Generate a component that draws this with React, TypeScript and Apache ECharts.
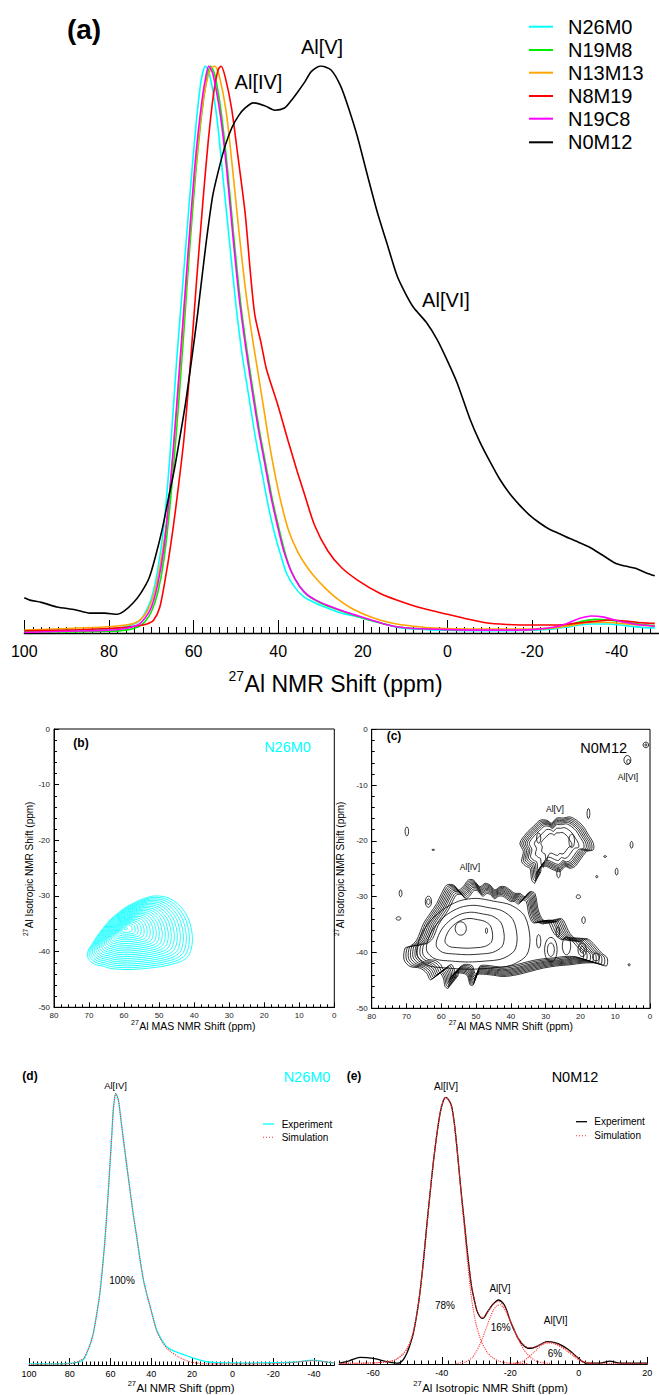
import React, { useEffect, useRef } from 'react';
import * as echarts from 'echarts';

const FONT = '"Liberation Sans", Arial, Helvetica, sans-serif';

// ---------- Panel (a): 1D 27Al MAS NMR spectra [ppm, normalised intensity] ----------
const A_SERIES_NAMES = ['N26M0', 'N19M8', 'N13M13', 'N8M19', 'N19C8', 'N0M12'];
const A_COLORS = ['#00ffff', '#00ee00', '#ffa500', '#ff0000', '#ff00ff', '#000000'];
const A_TICK_LABELS = [100, 80, 60, 40, 20, 0, -20, -40];

const N26M0 = [[100,0.004],[90,0.005],[80,0.007],[76,0.011],[73,0.02],[71.5,0.035],[70,0.06],[68.5,0.11],[67,0.19],[65.5,0.32],[64,0.48],[62.5,0.62],[61,0.76],[59.5,0.89],[58.3,0.97],[57.2,1.0],[56.2,0.985],[54.5,0.91],[53,0.8],[51.5,0.69],[50,0.58],[48.5,0.49],[47,0.42],[45.5,0.35],[44,0.29],[42.5,0.23],[41,0.18],[39.5,0.14],[38,0.105],[36,0.08],[34,0.064],[31,0.052],[28,0.043],[25,0.035],[22,0.03],[19,0.024],[16,0.018],[13,0.012],[10,0.008],[5,0.006],[0,0.005],[-10,0.004],[-20,0.005],[-25,0.007],[-28,0.01],[-31,0.014],[-34,0.016],[-38,0.016],[-42,0.013],[-46,0.01],[-49,0.009]];
const N19M8 = [[100,0.002],[90,0.002],[80,0.003],[76,0.005],[73,0.011],[71.5,0.02],[70,0.037],[68.5,0.07],[67,0.13],[65.5,0.23],[64,0.36],[62.5,0.51],[61,0.67],[59.5,0.81],[58,0.92],[56.8,0.98],[56,1.0],[55,0.985],[53.5,0.92],[52,0.82],[50.5,0.7],[49,0.59],[47.5,0.505],[46,0.43],[44.5,0.36],[43,0.3],[41.5,0.24],[40,0.19],[38.5,0.145],[37,0.11],[35,0.083],[33,0.066],[30,0.053],[27,0.044],[24,0.036],[21,0.029],[18,0.022],[15,0.016],[12,0.011],[8,0.008],[0,0.006],[-10,0.005],[-20,0.006],[-25,0.009],[-29,0.015],[-32,0.021],[-35,0.024],[-38,0.023],[-42,0.019],[-46,0.015],[-49,0.013]];
const N13M13 = [[100,0.005],[90,0.008],[80,0.011],[76,0.014],[74,0.017],[72.5,0.024],[71,0.038],[69.5,0.065],[68,0.115],[66.5,0.19],[65,0.3],[63.5,0.44],[62,0.59],[60.5,0.74],[59,0.86],[57.5,0.95],[56,0.995],[55,1.0],[54,0.985],[52.3,0.92],[50.8,0.82],[49.3,0.71],[47.8,0.61],[46.3,0.53],[45,0.47],[43.5,0.4],[42,0.33],[40.5,0.27],[39,0.22],[37.5,0.18],[35.5,0.145],[33.5,0.12],[31.5,0.1],[29,0.08],[26,0.06],[23,0.045],[20,0.034],[16,0.023],[12,0.016],[8,0.012],[4,0.009],[0,0.008],[-10,0.007],[-20,0.007],[-25,0.009],[-29,0.013],[-33,0.018],[-37,0.019],[-41,0.017],[-45,0.014],[-49,0.012]];
const N8M19 = [[100,0.004],[90,0.005],[80,0.008],[76,0.01],[73,0.013],[71,0.016],[69.5,0.022],[68,0.045],[66.6,0.099],[65.5,0.15],[64.3,0.215],[62.3,0.34],[60.7,0.48],[59.3,0.62],[57.8,0.76],[56.5,0.87],[55.2,0.955],[54.2,0.993],[53.5,1.0],[52.5,0.98],[51,0.925],[49.5,0.84],[47.8,0.74],[46.5,0.63],[45.5,0.56],[44,0.51],[42.8,0.466],[40,0.4],[37.7,0.34],[35.5,0.285],[33.8,0.245],[31.4,0.19],[28.3,0.145],[25,0.115],[21,0.092],[16,0.07],[12,0.058],[8,0.048],[4,0.04],[0,0.033],[-4,0.026],[-9,0.018],[-14,0.015],[-20,0.014],[-26,0.014],[-30,0.017],[-34,0.02],[-38.7,0.023],[-42,0.021],[-46,0.018],[-49,0.017]];
const N19C8 = [[100,0.001],[90,0.003],[80,0.005],[76,0.008],[73,0.015],[71.5,0.026],[70,0.045],[68.5,0.085],[67,0.15],[65.5,0.26],[64,0.4],[62.5,0.55],[61,0.7],[59.5,0.84],[58,0.94],[57,0.985],[56.4,1.0],[55.4,0.985],[53.7,0.915],[52.2,0.82],[50.7,0.7],[49.2,0.59],[47.7,0.505],[46.2,0.43],[44.7,0.36],[43.2,0.3],[41.7,0.24],[40.2,0.19],[38.7,0.145],[37,0.11],[35,0.083],[33,0.067],[30,0.054],[27,0.045],[24,0.037],[21,0.03],[18,0.023],[15,0.016],[12,0.011],[8,0.008],[0,0.006],[-10,0.005],[-20,0.006],[-25,0.01],[-28,0.016],[-31,0.025],[-34,0.03],[-37,0.028],[-40,0.022],[-44,0.016],[-49,0.012]];
const N0M12 = [[100,0.062],[98.7,0.058],[96,0.054],[92.3,0.046],[88,0.041],[84.5,0.035],[81,0.035],[78,0.033],[76.5,0.038],[74.3,0.053],[72.5,0.07],[70.5,0.097],[69,0.135],[67.5,0.18],[66,0.235],[64.5,0.29],[63,0.355],[61.9,0.405],[60.4,0.485],[59,0.565],[57.2,0.678],[55.5,0.77],[54.1,0.816],[52.5,0.86],[50.9,0.892],[49.3,0.913],[47.8,0.926],[45.9,0.935],[43.2,0.93],[40.8,0.922],[38.5,0.926],[36.8,0.94],[35.3,0.955],[33.7,0.972],[32.2,0.99],[30,1.0],[27.5,0.993],[25.2,0.964],[23.2,0.922],[21.3,0.876],[19,0.81],[16.6,0.743],[14,0.68],[11.9,0.63],[10,0.6],[8,0.574],[5,0.548],[2.4,0.517],[0,0.48],[-2.3,0.441],[-5.3,0.378],[-7.6,0.338],[-10,0.303],[-12.3,0.272],[-14.7,0.246],[-17,0.226],[-19.4,0.208],[-21.8,0.194],[-24.1,0.183],[-26.5,0.175],[-28.8,0.167],[-31,0.16],[-33.4,0.152],[-36.5,0.138],[-39.7,0.123],[-42,0.118],[-44.4,0.114],[-47,0.106],[-49,0.101]];
const A_DATA = [N26M0, N19M8, N13M13, N8M19, N19C8, N0M12];

// ---------- Panel (b): 2D MQMAS contour of N26M0 [MAS ppm, isotropic ppm] ----------
const B_OUTER = [[70.45,-40.9],[69.5,-41.8],[67.8,-42.4],[66,-42.6],[64,-43.0],[60.5,-43.2],[57.3,-43.2],[53.5,-43.0],[49.6,-42.7],[46.5,-42.3],[43.9,-41.8],[41.8,-40.9],[40.9,-39.7],[40.5,-38.2],[40.6,-36.7],[41.5,-34.3],[43,-32.6],[44.9,-31.3],[46.8,-30.5],[48.7,-30.1],[51.6,-30.0],[53.5,-30.3],[55.4,-30.7],[57.3,-31.3],[59.2,-31.9],[61.6,-33.0],[64,-34.3],[66,-35.8],[67.8,-37.3],[69.2,-38.7],[70.2,-39.7]];
const B_CENTER = [59.6, -35.8];
const B_LEVELS = [1, 0.955, 0.91, 0.865, 0.82, 0.775, 0.73, 0.685, 0.64, 0.595, 0.55, 0.505, 0.46, 0.415, 0.37, 0.325, 0.28, 0.235, 0.19, 0.145, 0.1, 0.03];

// ---------- Panel (c): 2D MQMAS contour of N0M12 ----------
const C_IV_OUTER = [[70.7,-41.3],[69,-42.5],[66.1,-42.8],[64.2,-43.7],[63.2,-44.9],[62.3,-44.6],[60.4,-43.7],[59.4,-44.6],[58.9,-46.1],[58,-46.4],[57.5,-44.6],[55.6,-43.7],[52.7,-44],[51.7,-45.8],[50.8,-45.8],[49.8,-44],[46,-44],[42.2,-44.3],[38.3,-44],[34.5,-43.4],[30.7,-42.8],[26.8,-42.4],[23,-42.2],[19.2,-41.9],[15.3,-41.9],[12.5,-42.4],[12.3,-41],[13.9,-40.1],[16.3,-38.4],[18.2,-37.5],[20.1,-38.1],[23,-36.6],[24.9,-34.2],[25.9,-33.9],[26.8,-34.5],[28.7,-34.2],[30.7,-34.2],[32.1,-32.4],[33.1,-29.4],[34.5,-29.1],[35.9,-30],[37.4,-29.4],[38.8,-29.4],[40.2,-28.8],[41.7,-28.2],[43.1,-28.2],[44.6,-28.8],[46,-27.9],[47.4,-27.6],[48.9,-28.2],[50.8,-27],[52.2,-27],[53.7,-28.2],[55.1,-28.8],[56.5,-27.9],[58.4,-27.9],[59.9,-29.4],[61.3,-31.2],[63.2,-33],[65.1,-34.8],[67.1,-37.8],[69,-38.9],[70.4,-39.2]];
const C_IV_CENTER = [45, -36.3];
const C_IV_LEVELS = [1, 0.975, 0.95, 0.925, 0.9, 0.875, 0.85, 0.82, 0.79];
const C_IV_CORE = [[67,-40.5],[64,-42.3],[58,-42.8],[52,-43],[46,-42.8],[40,-42.3],[35.5,-40.5],[34.5,-37.5],[36,-33.5],[40,-31.5],[45,-30.8],[50,-30.3],[55,-30.8],[60,-32.5],[64,-35],[66.5,-38]];
const C_IV_CORE_CENTER = [53, -36.5];
const C_IV_CORE_LEVELS = [1, 0.8, 0.6, 0.42];
const C_V_OUTER = [[36.9,-23.7],[36.4,-21.9],[37.4,-20.4],[35.5,-18.6],[33.5,-17.4],[31.6,-16.3],[29.7,-16.3],[28.3,-16.8],[26.8,-15.9],[24.9,-15.9],[23,-15.7],[21.1,-16.3],[19.2,-17.4],[17.7,-18.9],[16.3,-20.4],[16.3,-21.6],[18.2,-21.9],[20.1,-23.4],[21.6,-24.6],[23,-24.9],[24.4,-24.6],[25.9,-25.5],[27.8,-25.2],[29.7,-24.6],[31.1,-24.6],[32.6,-25.8],[33.1,-27.6],[34,-27],[34.5,-24.9],[35.5,-24.6]];
const C_V_CENTER = [27, -20.5];
const C_V_LEVELS = [1, 0.95, 0.9, 0.85, 0.8, 0.74, 0.6, 0.42];
// small isolated contours: [MAS ppm, iso ppm, half-width ppm, half-height ppm]
const C_ISLANDS = [[69.9,-18.3,0.5,0.8],[62.3,-21.6,0.4,0.1],[71.7,-29.4,0.4,0.6],[72.3,-33.9,0.7,0.3],[63.7,-30.9,0.9,1.0],[63.7,-30.9,0.5,0.5],[20.6,-30,0.6,0.35],[19.1,-34.2,0.5,0.6],[26.3,-25.8,0.5,0.8],[17.7,-15.1,0.4,0.9],[5.3,-20.7,0.4,0.6],[9.6,-25.5,0.4,0.6],[12.9,-22.8,0.4,0.15],[15.3,-26.4,0.3,0.2],[6,-42.2,0.3,0.2],[6.5,-5.5,1.0,0.8],[6.2,-5.8,0.5,0.4],[1.2,-2.8,0.8,0.5],[1.2,-2.8,0.3,0.2],[54.4,-35.7,1.6,1.2],[47,-36.1,0.3,0.5],[28.5,-39.5,1.8,2.2],[28.5,-39.5,1.0,1.2],[24,-38.8,1.2,1.6],[19.5,-39.5,1.2,1.2],[19.5,-39.5,0.6,0.6],[15.5,-40.8,1.0,0.7],[32,-38,0.6,1.2],[26.5,-36.3,0.5,0.9],[32,-19.5,0.6,0.9],[22.5,-20,0.8,1.2]];

// ---------- Panel (d): N26M0 isotropic projection fit ----------
const D_TICK_LABELS = [100, 80, 60, 40, 20, 0, -20, -40];
const D_EXP = [[100,0.004],[90,0.004],[80,0.006],[77,0.009],[75,0.012],[73,0.022],[71.7,0.043],[70,0.075],[68.4,0.117],[66.8,0.185],[65.2,0.264],[64,0.35],[62.7,0.46],[61.4,0.6],[60.2,0.742],[59.3,0.85],[58.6,0.939],[57.4,1.0],[56.1,0.975],[54.8,0.9],[53.6,0.828],[52,0.735],[50.4,0.644],[48.8,0.555],[47.1,0.472],[45.5,0.39],[43.8,0.313],[42.2,0.262],[40.5,0.215],[38.9,0.17],[37.3,0.129],[35,0.095],[32.4,0.067],[29,0.052],[25.9,0.043],[22.5,0.034],[19.3,0.025],[16,0.018],[12.7,0.012],[8,0.009],[0,0.008],[-10,0.007],[-16.4,0.008],[-25,0.009],[-32.7,0.012],[-36,0.016],[-39.7,0.018],[-43,0.015],[-47,0.01],[-50,0.008]];
const D_SIM = [[100,0.002],[90,0.003],[82,0.004],[78.2,0.006],[76.5,0.011],[75,0.016],[73,0.026],[71.7,0.045],[70,0.075],[68.4,0.117],[66.8,0.185],[65.2,0.264],[64,0.35],[62.7,0.46],[61.4,0.6],[60.2,0.742],[59.3,0.85],[58.6,0.939],[57.4,1.0],[56.1,0.975],[54.8,0.9],[53.6,0.828],[52,0.735],[50.4,0.644],[48.8,0.555],[47.1,0.472],[45.5,0.39],[43.8,0.313],[42.2,0.262],[40.5,0.215],[38.9,0.168],[37.3,0.126],[35,0.09],[32.4,0.062],[30,0.047],[27,0.032],[24,0.02],[21,0.012],[19.3,0.009],[15,0.005],[10,0.004],[0,0.004],[-10,0.004],[-20,0.005],[-28,0.008],[-34,0.013],[-39,0.016],[-44,0.013],[-50,0.008]];

// ---------- Panel (e): N0M12 isotropic projection fit ----------
const E_TICK_LABELS = [-60, -40, -20, 0, 20];
const E_EXP = [[-70,0.003],[-67,0.012],[-63.9,0.025],[-60,0.021],[-56.1,0.009],[-52.7,0.003],[-51.3,0.015],[-50.2,0.04],[-49.2,0.075],[-48.3,0.115],[-47.3,0.185],[-46.4,0.265],[-45.4,0.38],[-44.5,0.502],[-43.5,0.63],[-42.5,0.752],[-41.5,0.855],[-40.5,0.94],[-39.6,0.985],[-38.8,1.0],[-38,0.99],[-37.1,0.965],[-36.3,0.9],[-35.6,0.815],[-34.9,0.72],[-34.2,0.627],[-33.4,0.53],[-32.7,0.44],[-32,0.36],[-31.3,0.29],[-30.5,0.24],[-29.8,0.202],[-29,0.18],[-28.3,0.171],[-27.6,0.175],[-26.9,0.19],[-26,0.208],[-25,0.225],[-23.5,0.24],[-22.1,0.228],[-21,0.2],[-20.1,0.165],[-18.9,0.128],[-17.7,0.096],[-16.2,0.07],[-14.8,0.059],[-13.5,0.06],[-12.3,0.065],[-10.8,0.076],[-9.4,0.084],[-8,0.083],[-6.5,0.078],[-5,0.07],[-3.6,0.059],[-2,0.043],[-0.6,0.027],[1,0.01],[2.3,0.003],[6.2,0.003],[9.1,0.011],[12,0.003],[20,0.003]];
const E_SIM_TOTAL = [[-70,0.002],[-60,0.004],[-56,0.008],[-53.5,0.016],[-51.5,0.035],[-50,0.06],[-49,0.09],[-48.3,0.12],[-47.3,0.185],[-46.4,0.265],[-45.4,0.38],[-44.5,0.502],[-43.5,0.63],[-42.5,0.752],[-41.5,0.855],[-40.5,0.94],[-39.6,0.985],[-38.8,1.0],[-38,0.99],[-37.1,0.965],[-36.3,0.9],[-35.6,0.815],[-34.9,0.72],[-34.2,0.627],[-33.4,0.53],[-32.7,0.44],[-32,0.36],[-31.3,0.29],[-30.5,0.24],[-29.8,0.205],[-29,0.183],[-28.3,0.175],[-27.6,0.178],[-26.9,0.19],[-26,0.208],[-25,0.223],[-23.5,0.235],[-22.1,0.222],[-21,0.197],[-20.1,0.165],[-18.9,0.13],[-17.7,0.098],[-16.2,0.073],[-14.8,0.062],[-13.5,0.062],[-12.3,0.067],[-10.8,0.076],[-9.4,0.082],[-8,0.081],[-6.5,0.076],[-5,0.066],[-3.6,0.055],[-2,0.04],[-0.6,0.026],[1,0.011],[2.5,0.005],[5,0.003],[20,0.002]];
const E_SIM_IV = [[-70,0.002],[-60,0.004],[-56,0.008],[-53.5,0.016],[-51.5,0.035],[-50,0.06],[-49,0.09],[-48.3,0.12],[-47.3,0.185],[-46.4,0.265],[-45.4,0.38],[-44.5,0.502],[-43.5,0.63],[-42.5,0.752],[-41.5,0.855],[-40.5,0.94],[-39.6,0.985],[-38.8,1.0],[-38,0.99],[-37.1,0.96],[-36.3,0.895],[-35.6,0.81],[-34.9,0.715],[-34.2,0.615],[-33.4,0.51],[-32.7,0.41],[-32,0.32],[-31.3,0.245],[-30.5,0.18],[-29.8,0.14],[-29,0.105],[-28.3,0.08],[-27.5,0.06],[-26.5,0.04],[-25,0.022],[-23.5,0.012],[-22,0.006],[-20,0.003],[-15,0.002]];
const E_SIM_V = [[-36,0.002],[-33,0.008],[-31,0.025],[-30,0.045],[-29,0.07],[-28,0.1],[-27,0.135],[-26,0.17],[-25,0.2],[-24,0.218],[-23,0.222],[-22,0.212],[-21,0.19],[-20,0.16],[-19,0.128],[-18,0.1],[-17,0.075],[-16,0.053],[-15,0.037],[-14,0.024],[-13,0.015],[-12,0.009],[-10,0.004],[-8,0.002]];
const E_SIM_VI = [[-19,0.002],[-17,0.007],[-16,0.013],[-15,0.022],[-14,0.033],[-13,0.045],[-12,0.058],[-11,0.069],[-10,0.076],[-9,0.079],[-8,0.078],[-7,0.075],[-6,0.069],[-5,0.062],[-4,0.054],[-3,0.044],[-2,0.034],[-1,0.024],[0,0.016],[1,0.009],[2,0.005],[4,0.002]];

// ---------------- helpers ----------------
function pairAxes(grid: number, min: number, max: number, minorStep: number, majors: number[],
  minorLen: number, majorLen: number, labelSize: number, margin: number, lw: number, inverse: boolean) {
  const lineStyle = { color: '#000', width: 1 };
  return [
    {
      type: 'value', gridIndex: grid, position: 'bottom', min, max, interval: minorStep, inverse,
      axisLine: { show: true, onZero: false, lineStyle: { color: '#000', width: lw } },
      axisTick: { show: true, inside: true, length: minorLen, lineStyle },
      axisLabel: {
        show: true, customValues: majors, fontSize: labelSize, margin, color: '#000', fontFamily: FONT,
        formatter: (v: number) => (majors.indexOf(v) >= 0 ? String(v) : ''),
      },
      splitLine: { show: false },
    },
    {
      type: 'value', gridIndex: grid, position: 'bottom', min, max, inverse,
      axisLine: { show: false },
      axisTick: { show: true, inside: true, length: majorLen, customValues: majors, lineStyle },
      axisLabel: { show: false },
      splitLine: { show: false },
    },
  ];
}

function twoDAxes(grid: number) {
  const ls = { color: '#000', width: 1 };
  const x = {
    type: 'value', gridIndex: grid, min: 0, max: 80, interval: 10, inverse: true,
    axisLine: { show: true, onZero: false, lineStyle: ls },
    axisTick: { show: true, inside: true, length: 5, lineStyle: ls },
    minorTick: { show: true, splitNumber: 5, length: 3, lineStyle: ls },
    axisLabel: { fontSize: 8, margin: 4, color: '#222', fontFamily: FONT },
    splitLine: { show: false },
  };
  const y = {
    type: 'value', gridIndex: grid, min: -50, max: 0, interval: 10,
    axisLine: { show: true, onZero: false, lineStyle: ls },
    axisTick: { show: true, inside: true, length: 5, lineStyle: ls },
    minorTick: { show: true, splitNumber: 5, length: 3, lineStyle: ls },
    axisLabel: { fontSize: 8, margin: 4, color: '#222', fontFamily: FONT },
    splitLine: { show: false },
  };
  return { x, y };
}

function ringSeries(xi: number, yi: number, boundary: number[][], center: number[], levels: number[], color: string, width: number) {
  return {
    type: 'custom', coordinateSystem: 'cartesian2d', xAxisIndex: xi, yAxisIndex: yi, silent: true, clip: true,
    data: levels.map((l) => [center[0], center[1], l]),
    encode: { x: 0, y: 1 },
    renderItem: (params: any, api: any) => {
      const f = api.value(2);
      const pts = boundary.map(([x, y]) => api.coord([center[0] + f * (x - center[0]), center[1] + f * (y - center[1])]));
      return { type: 'polygon', shape: { points: pts, smooth: 0.3 }, style: { fill: 'none', stroke: color, lineWidth: width } };
    },
  };
}

function islandSeries(xi: number, yi: number, items: number[][], color: string) {
  return {
    type: 'custom', coordinateSystem: 'cartesian2d', xAxisIndex: xi, yAxisIndex: yi, silent: true, clip: true,
    data: items, encode: { x: 0, y: 1 },
    renderItem: (params: any, api: any) => {
      const c = api.coord([api.value(0), api.value(1)]);
      const s = api.size([api.value(2), api.value(3)]);
      return { type: 'ellipse', shape: { cx: c[0], cy: c[1], rx: Math.max(0.8, Math.abs(s[0])), ry: Math.max(0.6, Math.abs(s[1])) }, style: { fill: 'none', stroke: color, lineWidth: 0.8 } };
    },
  };
}

function txt(text: string, x: number, y: number, size: number, opt: any = {}) {
  return {
    type: 'text', x, y, silent: true,
    style: {
      text, fontSize: size, fontFamily: FONT, fill: opt.fill || '#000', fontWeight: opt.bold ? 'bold' : 'normal',
      textAlign: opt.align || 'center', textVerticalAlign: 'middle',
    },
  };
}

// horizontal axis title with a superscript isotope number; x0 = left edge
function supTitle(x0: number, y: number, sup: string, main: string, supSize: number, mainSize: number) {
  const supW = sup.length * supSize * 0.556 + 0.5;
  return {
    type: 'group', x: x0, y, children: [
      txt(sup, 0, -mainSize * 0.36, supSize, { align: 'left' }),
      txt(main, supW, 0, mainSize, { align: 'left' }),
    ],
  };
}

// vertical axis title (reads bottom to top), centred at (cx, cy)
function vTitle(cx: number, cy: number, sup: string, main: string, supSize: number, mainSize: number, totalW: number) {
  const supW = sup.length * supSize * 0.556 + 0.5;
  return {
    type: 'group', x: cx, y: cy, rotation: Math.PI / 2, children: [
      txt(sup, -totalW / 2, -mainSize * 0.36, supSize, { align: 'left' }),
      txt(main, -totalW / 2 + supW, 0, mainSize, { align: 'left' }),
    ],
  };
}

function legendLine(x1: number, x2: number, y: number, color: string, width: number, dash?: number[]) {
  return { type: 'line', silent: true, shape: { x1, y1: y, x2, y2: y }, style: { stroke: color, lineWidth: width, lineDash: dash || null } };
}

export default function App() {
  const ref = useRef<HTMLDivElement>(null);
  useEffect(() => {
    if (!ref.current) return;
    const chart = echarts.init(ref.current, undefined, { renderer: 'svg' });

    const aAxes = pairAxes(0, -50, 100, 2, A_TICK_LABELS, 6, 13, 16, 10, 1.3, true);
    const b = twoDAxes(1);
    const c = twoDAxes(2);
    const dAxes = pairAxes(3, -50, 100, 2, D_TICK_LABELS, 3.5, 7, 9, 4.5, 1.1, true);
    const eAxes = pairAxes(4, -70, 20, 2, E_TICK_LABELS, 3.5, 7, 9, 4, 1.1, false);

    const hiddenY = (g: number) => ({ type: 'value', gridIndex: g, min: 0, max: 1, show: false, splitLine: { show: false } });

    const lineSeries = (name: string, data: number[][], xi: number, yi: number, color: string, width: number, dotted = false) => ({
      type: 'line', name, data, xAxisIndex: xi, yAxisIndex: yi, showSymbol: false, smooth: 0.25, silent: true,
      lineStyle: { color, width, type: dotted ? 'dotted' : 'solid' }, z: dotted ? 4 : 3,
    });

    const series: any[] = [];
    A_DATA.forEach((d, i) => series.push(lineSeries(A_SERIES_NAMES[i], d, 0, 0, A_COLORS[i], 1.6)));
    series.push(ringSeries(2, 1, B_OUTER, B_CENTER, B_LEVELS, '#00ffff', 0.85));
    series.push(ringSeries(3, 2, C_IV_OUTER, C_IV_CENTER, C_IV_LEVELS, '#000', 0.8));
    series.push(ringSeries(3, 2, C_IV_CORE, C_IV_CORE_CENTER, C_IV_CORE_LEVELS, '#000', 0.8));
    series.push(ringSeries(3, 2, C_V_OUTER, C_V_CENTER, C_V_LEVELS, '#000', 0.8));
    series.push(islandSeries(3, 2, C_ISLANDS, '#000'));
    series.push(lineSeries('Experiment', D_EXP, 4, 3, '#00ffff', 1.3));
    series.push(lineSeries('Simulation', D_SIM, 4, 3, '#ff3030', 1.1, true));
    series.push(lineSeries('Experiment', E_EXP, 6, 4, '#000', 1.3));
    series.push(lineSeries('Simulation', E_SIM_TOTAL, 6, 4, '#ff3030', 1.1, true));
    series.push(lineSeries('Al[IV]', E_SIM_IV, 6, 4, '#ff3030', 1.1, true));
    series.push(lineSeries('Al[V]', E_SIM_V, 6, 4, '#ff3030', 1.1, true));
    series.push(lineSeries('Al[VI]', E_SIM_VI, 6, 4, '#ff3030', 1.1, true));

    const legendRows = [26.7, 50, 72.7, 96, 118.7, 142.3];
    const graphics: any[] = [
      // panel (a)
      txt('(a)', 84, 29, 28, { bold: true }),
      txt('Al[IV]', 258.5, 82, 20),
      txt('Al[V]', 322, 46.5, 20),
      txt('Al[VI]', 446, 300, 20),
      ...A_SERIES_NAMES.map((n, i) => legendLine(529, 553, legendRows[i], A_COLORS[i], 2)),
      ...A_SERIES_NAMES.map((n, i) => txt(n, 568, legendRows[i], 20, { align: 'left' })),
      supTitle(228.5, 684, '27', 'Al NMR Shift (ppm)', 14, 23),
      // panel (b)
      txt('(b)', 81, 742.5, 12, { bold: true }),
      txt('N26M0', 287.5, 747, 14.5, { fill: '#00ffff' }),
      supTitle(131, 1026, '27', 'Al MAS NMR Shift (ppm)', 7, 10.5),
      vTitle(29, 868, '27', 'Al Isotropic NMR Shift (ppm)', 6.5, 10, 136),
      // panel (c)
      txt('(c)', 394, 736, 12, { bold: true }),
      txt('N0M12', 603.7, 748.3, 14.5),
      txt('Al[IV]', 470, 866.7, 8.5),
      txt('Al[V]', 555, 809.3, 8.5),
      txt('Al[VI]', 628, 776.7, 8.5),
      supTitle(448.7, 1026, '27', 'Al MAS NMR Shift (ppm)', 7, 10.5),
      vTitle(340, 868, '27', 'Al Isotropic NMR Shift (ppm)', 6.5, 10, 136),
      // panel (d)
      txt('(d)', 30, 1076, 12, { bold: true }),
      txt('N26M0', 307, 1077, 14.5, { fill: '#00ffff' }),
      txt('Al[IV]', 115.5, 1085, 9.5),
      txt('100%', 122, 1280, 10),
      legendLine(263, 274, 1124, '#00ffff', 1.3),
      legendLine(263, 274, 1137.3, '#ff3030', 1.1, [1, 2]),
      txt('Experiment', 281.7, 1124, 10, { align: 'left' }),
      txt('Simulation', 281.7, 1137.3, 10, { align: 'left' }),
      supTitle(127.7, 1388, '27', 'Al NMR Shift (ppm)', 7.5, 11.4),
      // panel (e)
      txt('(e)', 354, 1076, 12, { bold: true }),
      txt('N0M12', 575, 1077, 14.5),
      txt('Al[IV]', 446, 1086.7, 10),
      txt('78%', 445, 1305, 10),
      txt('Al[V]', 500, 1288.3, 10),
      txt('16%', 500.7, 1327.3, 10),
      txt('Al[VI]', 555.7, 1320.7, 10),
      txt('6%', 555, 1353.3, 10),
      legendLine(576, 587, 1121.7, '#000', 1.3),
      legendLine(576, 587, 1135.7, '#ff3030', 1.1, [1, 2]),
      txt('Experiment', 594.3, 1121.7, 10, { align: 'left' }),
      txt('Simulation', 594.3, 1135.7, 10, { align: 'left' }),
      supTitle(413.3, 1388, '27', 'Al Isotropic NMR Shift (ppm)', 7.5, 11.5),
    ];

    chart.setOption({
      animation: false,
      backgroundColor: '#ffffff',
      textStyle: { fontFamily: FONT },
      grid: [
        { left: 24.3, top: 66, width: 639.6, height: 567, containLabel: false },
        { left: 54, top: 729, width: 280.3, height: 278.3, show: true, borderColor: '#000', borderWidth: 1, backgroundColor: 'rgba(0,0,0,0)' },
        { left: 371.7, top: 729.3, width: 278.3, height: 279, show: true, borderColor: '#000', borderWidth: 1, backgroundColor: 'rgba(0,0,0,0)' },
        { left: 29, top: 1093.3, width: 305.4, height: 271.7 },
        { left: 339, top: 1097.3, width: 308.3, height: 266.7 },
      ],
      xAxis: [aAxes[0], aAxes[1], b.x, c.x, dAxes[0], dAxes[1], eAxes[0], eAxes[1]],
      yAxis: [hiddenY(0), b.y, c.y, hiddenY(3), hiddenY(4)],
      series,
      graphic: graphics,
    });
    return () => chart.dispose();
  }, []);
  return <div ref={ref} style={{ position: 'fixed', left: 0, top: 0, width: 659, height: 1395, background: '#fff' }} />;
}
